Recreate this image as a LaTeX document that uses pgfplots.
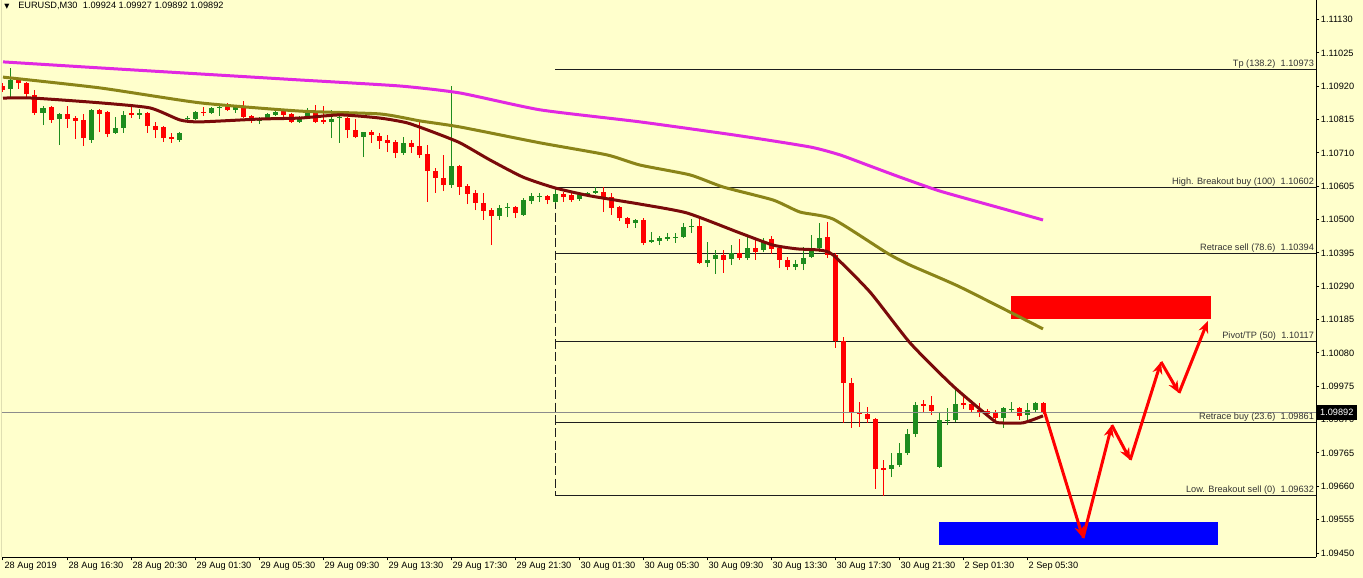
\documentclass[border=0pt]{standalone}
\usepackage{fontspec}
\setmainfont{Liberation Sans}
\newfontfamily\dejavu{DejaVu Sans}
\usepackage{pgfplots}
\pgfplotsset{compat=1.18}
\usepackage{pgfplotstable}
\usetikzlibrary{arrows.meta}

\definecolor{chartbg}{RGB}{255,255,204}
\definecolor{bearc}{RGB}{255,0,0}
\definecolor{bullc}{RGB}{30,140,30}
\definecolor{maslow}{RGB}{225,40,225}
\definecolor{mamid}{RGB}{138,132,24}
\definecolor{mafast}{RGB}{122,10,10}
\definecolor{fibc}{RGB}{30,30,30}

\newcommand\lbl{\fontsize{6.9}{8}\selectfont}

% EURUSD M30 candles, bearish (close < open)
\pgfplotstableread{
i o h l c
0 1.10921 1.10931 1.10902 1.10908
2 1.10940 1.10946 1.10912 1.10931
3 1.10931 1.10934 1.10886 1.10896
4 1.10893 1.10908 1.10830 1.10836
6 1.10855 1.10858 1.10805 1.10814
8 1.10833 1.10858 1.10789 1.10817
9 1.10820 1.10827 1.10754 1.10811
10 1.10814 1.10833 1.10732 1.10757
12 1.10845 1.10849 1.10776 1.10833
13 1.10839 1.10842 1.10760 1.10770
16 1.10836 1.10855 1.10820 1.10830
18 1.10836 1.10839 1.10773 1.10795
19 1.10795 1.10808 1.10757 1.10782
20 1.10792 1.10795 1.10745 1.10757
21 1.10760 1.10773 1.10742 1.10754
25 1.10839 1.10855 1.10827 1.10836
28 1.10858 1.10868 1.10842 1.10845
30 1.10852 1.10874 1.10820 1.10823
31 1.10827 1.10830 1.10805 1.10811
35 1.10842 1.10849 1.10823 1.10830
36 1.10833 1.10836 1.10805 1.10808
39 1.10839 1.10861 1.10805 1.10808
40 1.10814 1.10858 1.10801 1.10808
43 1.10820 1.10823 1.10757 1.10782
44 1.10782 1.10817 1.10757 1.10760
46 1.10776 1.10782 1.10742 1.10767
47 1.10764 1.10773 1.10723 1.10748
48 1.10751 1.10767 1.10713 1.10742
49 1.10745 1.10751 1.10694 1.10710
51 1.10742 1.10751 1.10710 1.10729
52 1.10732 1.10811 1.10694 1.10704
53 1.10707 1.10735 1.10556 1.10653
54 1.10653 1.10663 1.10584 1.10631
55 1.10631 1.10704 1.10590 1.10609
57 1.10669 1.10672 1.10578 1.10603
58 1.10606 1.10612 1.10549 1.10581
59 1.10584 1.10593 1.10530 1.10553
60 1.10553 1.10584 1.10499 1.10527
61 1.10530 1.10537 1.10420 1.10512
64 1.10540 1.10543 1.10505 1.10521
68 1.10575 1.10578 1.10549 1.10562
70 1.10581 1.10587 1.10556 1.10571
71 1.10578 1.10584 1.10556 1.10562
75 1.10587 1.10603 1.10524 1.10571
76 1.10571 1.10584 1.10515 1.10537
77 1.10540 1.10543 1.10496 1.10505
78 1.10505 1.10508 1.10474 1.10486
80 1.10499 1.10505 1.10420 1.10427
87 1.10480 1.10502 1.10360 1.10363
90 1.10389 1.10404 1.10332 1.10373
92 1.10395 1.10439 1.10373 1.10379
94 1.10411 1.10436 1.10373 1.10398
96 1.10439 1.10449 1.10392 1.10408
97 1.10411 1.10420 1.10348 1.10373
98 1.10373 1.10382 1.10341 1.10351
103 1.10445 1.10493 1.10379 1.10389
104 1.10389 1.10395 1.10096 1.10118
105 1.10118 1.10130 1.09860 1.09986
106 1.09986 1.10001 1.09844 1.09891
107 1.09891 1.09926 1.09847 1.09888
108 1.09888 1.09910 1.09860 1.09872
109 1.09872 1.09874 1.09652 1.09715
110 1.09718 1.09743 1.09630 1.09711
115 1.09919 1.09932 1.09891 1.09913
116 1.09916 1.09945 1.09885 1.09897
120 1.09923 1.09948 1.09904 1.09916
121 1.09919 1.09932 1.09891 1.09900
122 1.09900 1.09923 1.09878 1.09894
123 1.09897 1.09904 1.09878 1.09888
124 1.09891 1.09900 1.09869 1.09875
127 1.09907 1.09910 1.09869 1.09882
130 1.09924 1.09927 1.09888 1.09892
}\beartab

% bullish (close >= open)
\pgfplotstableread{
i o h l c
1 1.10912 1.10978 1.10880 1.10940
5 1.10836 1.10858 1.10798 1.10852
7 1.10817 1.10836 1.10735 1.10833
11 1.10751 1.10849 1.10742 1.10845
14 1.10773 1.10823 1.10770 1.10789
15 1.10789 1.10842 1.10773 1.10830
17 1.10830 1.10849 1.10817 1.10836
22 1.10751 1.10776 1.10745 1.10773
23 1.10817 1.10827 1.10811 1.10820
24 1.10817 1.10842 1.10814 1.10839
26 1.10836 1.10855 1.10833 1.10852
27 1.10852 1.10858 1.10827 1.10855
29 1.10845 1.10858 1.10836 1.10855
32 1.10811 1.10823 1.10801 1.10817
33 1.10820 1.10836 1.10817 1.10833
34 1.10830 1.10845 1.10827 1.10839
37 1.10808 1.10827 1.10805 1.10820
38 1.10823 1.10852 1.10820 1.10839
41 1.10808 1.10845 1.10757 1.10817
42 1.10820 1.10830 1.10742 1.10823
45 1.10760 1.10777 1.10697 1.10776
50 1.10710 1.10760 1.10704 1.10742
56 1.10609 1.10921 1.10600 1.10669
62 1.10512 1.10546 1.10499 1.10537
63 1.10537 1.10553 1.10508 1.10540
65 1.10515 1.10568 1.10512 1.10562
66 1.10559 1.10584 1.10549 1.10575
67 1.10571 1.10584 1.10556 1.10574
69 1.10556 1.10600 1.10553 1.10581
72 1.10565 1.10581 1.10559 1.10578
73 1.10578 1.10587 1.10575 1.10584
74 1.10584 1.10603 1.10581 1.10590
79 1.10490 1.10502 1.10474 1.10499
81 1.10430 1.10461 1.10427 1.10436
82 1.10433 1.10449 1.10420 1.10442
83 1.10439 1.10458 1.10433 1.10445
84 1.10442 1.10458 1.10427 1.10445
85 1.10445 1.10490 1.10442 1.10477
86 1.10477 1.10502 1.10458 1.10480
88 1.10363 1.10430 1.10351 1.10373
89 1.10376 1.10404 1.10329 1.10389
91 1.10376 1.10420 1.10357 1.10395
93 1.10379 1.10445 1.10373 1.10411
95 1.10404 1.10442 1.10398 1.10430
99 1.10351 1.10373 1.10341 1.10360
100 1.10360 1.10414 1.10341 1.10379
101 1.10382 1.10452 1.10379 1.10411
102 1.10411 1.10490 1.10398 1.10442
111 1.09715 1.09765 1.09689 1.09727
112 1.09727 1.09797 1.09721 1.09765
113 1.09765 1.09841 1.09759 1.09825
114 1.09825 1.09926 1.09815 1.09916
117 1.09721 1.09891 1.09718 1.09869
118 1.09866 1.09907 1.09853 1.09869
119 1.09869 1.09967 1.09863 1.09919
125 1.09875 1.09910 1.09844 1.09907
126 1.09900 1.09926 1.09891 1.09904
128 1.09885 1.09923 1.09869 1.09900
129 1.09900 1.09926 1.09894 1.09923
}\bulltab

\begin{document}
\begin{tikzpicture}
\fill[chartbg] (-1.5pt,-15.75pt) rectangle (1020.75pt,417.75pt);
\path[use as bounding box] (-1.5pt,-15.75pt) rectangle (1020.75pt,417.75pt);
\begin{axis}[
    at={(0pt,0pt)}, anchor=south west,
    scale only axis, width=985.5pt, height=417.75pt,
    xmin=-0.125, xmax=164.125,
    ymin=1.094374, ymax=1.1119195,
    axis x line*=bottom, axis y line*=right,
    axis line style={black, line width=0.75pt},
    tick align=outside, major tick length=2.5pt,
    tick style={black, line width=0.75pt},
    xtick={0,8,...,128},
    xticklabels={28 Aug 2019, 28 Aug 16:30, 28 Aug 20:30, 29 Aug 01:30, 29 Aug 05:30,
        29 Aug 09:30, 29 Aug 13:30, 29 Aug 17:30, 29 Aug 21:30, 30 Aug 01:30,
        30 Aug 05:30, 30 Aug 09:30, 30 Aug 13:30, 30 Aug 17:30, 30 Aug 21:30,
        2 Sep 01:30, 2 Sep 05:30},
    xticklabel style={anchor=north west, inner sep=0pt, xshift=1pt, yshift=-1pt, font=\lbl},
    ytick={1.0945,1.09555,1.0966,1.09765,1.0987,1.09975,1.1008,1.10185,1.1029,
        1.10395,1.105,1.10605,1.1071,1.10815,1.1092,1.11025,1.1113},
    yticklabels={1.09450,1.09555,1.09660,1.09765,1.09870,1.09975,1.10080,1.10185,1.10290,
        1.10395,1.10500,1.10605,1.10710,1.10815,1.10920,1.11025,1.11130},
    yticklabel style={anchor=west, inner sep=0pt, xshift=1pt, font=\lbl},
]
% zones (background objects)
\addplot[fill=bearc, draw=none] coordinates {(126,1.10187) (151,1.10187) (151,1.10260) (126,1.10260)} -- cycle;
\addplot[fill=blue, draw=none] coordinates {(117,1.09475) (151.875,1.09475) (151.875,1.09548) (117,1.09548)} -- cycle;

% fibo levels
\addplot[fibc, line width=0.75pt] coordinates {(69,1.10973) (164.125,1.10973)};
\addplot[fibc, line width=0.75pt] coordinates {(69,1.10602) (164.125,1.10602)};
\addplot[fibc, line width=0.75pt] coordinates {(69,1.10394) (164.125,1.10394)};
\addplot[fibc, line width=0.75pt] coordinates {(69,1.10117) (164.125,1.10117)};
\addplot[fibc, line width=0.75pt] coordinates {(69,1.09861) (164.125,1.09861)};
\addplot[fibc, line width=0.75pt] coordinates {(69,1.09632) (164.125,1.09632)};
\addplot[fibc, line width=0.75pt, dash pattern=on 7pt off 2.5pt] coordinates {(69,1.10602) (69,1.09632)};

% candles: wicks then bodies
\addplot[draw=none, mark=none, error bars/.cd, y dir=plus, y explicit, error mark=none,
    error bar style={draw=bearc, line width=0.75pt}]
    table[x=i, y=l, y error plus expr=\thisrow{h}-\thisrow{l}] {\beartab};
\addplot[draw=none, mark=none, error bars/.cd, y dir=plus, y explicit, error mark=none,
    error bar style={draw=bearc, line width=3.75pt}]
    table[x=i, y=c, y error plus expr=\thisrow{o}-\thisrow{c}] {\beartab};
\addplot[draw=none, mark=none, error bars/.cd, y dir=plus, y explicit, error mark=none,
    error bar style={draw=bullc, line width=0.75pt}]
    table[x=i, y=l, y error plus expr=\thisrow{h}-\thisrow{l}] {\bulltab};
\addplot[draw=none, mark=none, error bars/.cd, y dir=plus, y explicit, error mark=none,
    error bar style={draw=bullc, line width=3.75pt}]
    table[x=i, y=o, y error plus expr=\thisrow{c}-\thisrow{o}] {\bulltab};

% moving averages
\addplot[maslow, line width=2.25pt, smooth, tension=0.35] coordinates {
    (0,1.10997) (12.125,1.10978) (24.625,1.10959) (37.125,1.10940) (49.625,1.10921)
    (57.125,1.10899) (67.125,1.10846) (79.625,1.10808) (92.125,1.10764) (100.875,1.10729)
    (104.625,1.10704) (108.375,1.10669) (112.125,1.10634) (117.125,1.10590)
    (124.625,1.10537) (130,1.10499)};
\addplot[mamid, line width=2.25pt, smooth, tension=0.35] coordinates {
    (0,1.10949) (12.125,1.10915) (24.625,1.10868) (37.125,1.10842) (47.125,1.10833)
    (52.125,1.10811) (57.125,1.10792) (67.125,1.10742) (75.5,1.10704) (79.625,1.10672)
    (85.875,1.10641) (90,1.10603) (96.25,1.10562) (99.625,1.10524) (103.75,1.10502)
    (110.5,1.10395) (113.375,1.10357) (119.625,1.10288) (130,1.10156)};
\addplot[mafast, line width=2.25pt, smooth, tension=0.35] coordinates {
    (0,1.10883) (3.75,1.10883) (12.125,1.10868) (18.375,1.10852) (22.125,1.10814)
    (24.625,1.10808) (32.125,1.10817) (37.125,1.10820) (42.125,1.10830) (47.125,1.10820)
    (50.5,1.10805) (53.75,1.10776) (57.125,1.10742) (60.875,1.10688) (65,1.10634)
    (69,1.10600) (73.375,1.10575) (79.625,1.10549) (85.5,1.10521) (92.125,1.10458)
    (96.25,1.10420) (99.25,1.10408) (102.125,1.10404) (103.75,1.10389) (108.375,1.10272)
    (113.375,1.10112) (118.75,1.09976) (123.75,1.09869) (124.625,1.09860) (127.5,1.09860)
    (130,1.09882)};

% current bid line
\addplot[black!45, line width=0.75pt] coordinates {(-0.125,1.09892) (164.125,1.09892)};

% projected path
\addplot[bearc, line width=2.25pt, -{Stealth[length=9pt,width=7.5pt]}] coordinates {(130,1.09910) (135,1.09497)};
\addplot[bearc, line width=2.25pt, -{Stealth[length=9pt,width=7.5pt]}] coordinates {(135,1.09497) (138.6,1.09853)};
\addplot[bearc, line width=2.25pt, -{Stealth[length=9pt,width=7.5pt]}] coordinates {(138.6,1.09853) (140.9,1.09743)};
\addplot[bearc, line width=2.25pt, -{Stealth[length=9pt,width=7.5pt]}] coordinates {(140.9,1.09743) (144.75,1.10052)};
\addplot[bearc, line width=2.25pt, -{Stealth[length=9pt,width=7.5pt]}] coordinates {(144.75,1.10052) (147,1.09954)};
\addplot[bearc, line width=2.25pt, -{Stealth[length=9pt,width=7.5pt]}] coordinates {(147,1.09954) (150.6,1.10181)};

% fibo labels
\begin{scope}[every node/.style={anchor=south east, inner sep=0pt, yshift=0.6pt, text=black!80, font=\lbl}]
\node at (axis cs:163.9,1.10973) {Tp (138.2)\hspace{4pt}1.10973};
\node at (axis cs:163.9,1.10602) {High. Breakout buy (100)\hspace{4pt}1.10602};
\node at (axis cs:163.9,1.10394) {Retrace sell (78.6)\hspace{4pt}1.10394};
\node at (axis cs:163.9,1.10117) {Pivot/TP (50)\hspace{4pt}1.10117};
\node at (axis cs:163.9,1.09861) {Retrace buy (23.6)\hspace{4pt}1.09861};
\node at (axis cs:163.9,1.09632) {Low. Breakout sell (0)\hspace{4pt}1.09632};
\end{scope}

\draw[black, line width=0.75pt] (rel axis cs:0,0) -- (rel axis cs:0,1);
\coordinate (pbox) at (axis cs:164.125,1.09892);
\end{axis}
\node[anchor=west, fill=black, text=white, inner xsep=2.5pt, inner ysep=0pt,
    minimum height=11pt, font=\lbl] at ([xshift=0.4pt]pbox) {1.09892};
\node[anchor=base west, inner sep=0pt, font={\dejavu\fontsize{5}{6}\selectfont}] at (1.5pt,411.6pt) {▼};
\node[anchor=base west, inner sep=0pt, font=\lbl] at (12pt,411.3pt)
    {EURUSD,M30\hspace{4pt}1.09924 1.09927 1.09892 1.09892};
\end{tikzpicture}
\end{document}
